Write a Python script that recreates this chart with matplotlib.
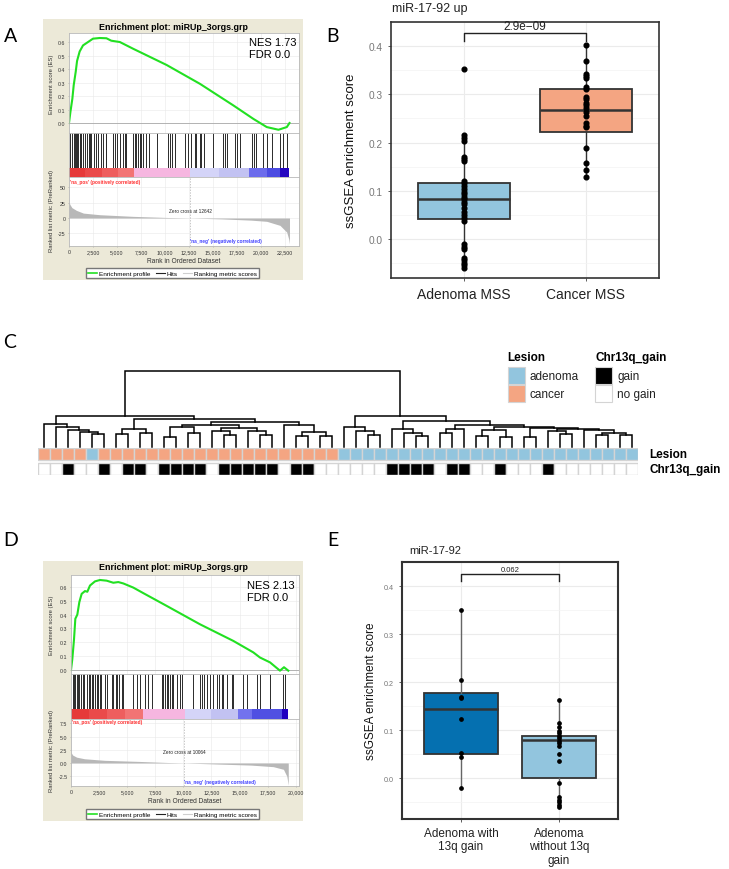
import matplotlib
matplotlib.use('Agg')
import matplotlib.pyplot as plt
from matplotlib.patches import Rectangle
from matplotlib.lines import Line2D
import numpy as np

plt.rcParams['font.family'] = ['Liberation Sans', 'DejaVu Sans']

# ---------------------------------------------------------------- data
# Panel A (GSEA, adenoma->cancer)
A_es_rank = [0, 143, 350, 490, 700, 840, 1110, 1460, 1980, 2500, 3200, 3900, 4400,
             5300, 6690, 10170, 13650, 17130, 19220, 20600, 21820, 22690, 22970]
A_es_val = [0, 0.08, 0.18, 0.28, 0.38, 0.46, 0.53, 0.575, 0.60, 0.625, 0.63, 0.628, 0.61,
            0.60, 0.55, 0.43, 0.29, 0.13, 0.03, -0.03, -0.05, -0.03, 0.0]
A_hits = [143, 316, 490, 629, 734, 838, 977, 1116, 1290, 1464, 1672, 1881, 2055, 2194, 2333,
          2611, 2855, 3028, 3376, 3550, 3828, 3898, 4593, 4767, 5010, 5289, 5636, 5810, 5984,
          6676, 6851, 7024, 7198, 7372, 7546, 7720, 8070, 8310, 9180, 10330, 10500, 10780,
          11020, 12060, 12410, 12760, 13110, 13280, 13630, 13800, 14050, 15020, 16000, 16240,
          16410, 17280, 17460, 17810, 19100, 19270, 19480, 20250, 20590, 21110, 21980, 22260,
          22750]
A_cb_edges = [0, 1700, 3400, 5100, 6800, 12600, 15600, 18800, 20600, 22000, 22970]
A_cb_colors = ['#e63a3a', '#ea4a4a', '#ee5e5e', '#f27474', '#f6b6e0', '#d4d4f8',
               '#c2c2f2', '#6c6cec', '#4c4ce2', '#2406c0']
A_m_rank = [0, 100, 300, 770, 1500, 3200, 6700, 10000, 12642, 16000, 19000, 20600,
            21980, 22680, 22900, 22970]
A_m_val = [26, 22, 17, 12.5, 8, 5.4, 2.7, 1, 0, -1.5, -3.5, -5.4, -12, -23, -35, -42]
A_zero = 12642

# Panel D (GSEA, adenoma with vs without 13q gain)
D_es_rank = [0, 119, 267, 385, 563, 741, 949, 1245, 1453, 1690, 2135, 2580, 3173, 3766,
             4210, 4655, 5545, 6434, 8510, 11476, 14442, 16221, 16814, 17704, 18593,
             18950, 19335]
D_es_val = [0, 0.08, 0.22, 0.37, 0.40, 0.49, 0.55, 0.57, 0.565, 0.61, 0.64, 0.65, 0.645,
            0.63, 0.635, 0.625, 0.595, 0.555, 0.463, 0.33, 0.21, 0.127, 0.09, 0.055,
            -0.005, 0.02, -0.005]
D_hits = [148, 267, 385, 504, 623, 741, 860, 1038, 1156, 1453, 1571, 1690, 1838, 1987,
          2135, 2283, 2431, 2580, 2669, 3025, 3173, 3618, 3766, 4003, 4122, 4300, 4507,
          4655, 5545, 5901, 6138, 6583, 6879, 7176, 8066, 8214, 8362, 8510, 8659, 8807,
          8955, 9103, 9400, 9696, 9845, 10883, 11476, 11624, 11832, 12069, 12366, 12662,
          12959, 13137, 13404, 13552, 13849, 14294, 14442, 15332, 15629, 16518, 16814,
          17704, 18890, 19038]
D_cb_edges = [0, 1600, 3200, 4800, 6400, 10140, 12500, 14860, 16100, 18770, 19330]
D_cb_colors = ['#e63a3a', '#ea4a4a', '#ee5e5e', '#f27474', '#f6b6e0', '#d4d4f8',
               '#c2c2f2', '#7272ee', '#5050e2', '#2000c0']
D_m_rank = [0, 150, 500, 1200, 3000, 6000, 8500, 10064, 13000, 16000, 18000, 18900,
            19200, 19330]
D_m_val = [2.0, 1.5, 1.1, 0.8, 0.5, 0.3, 0.1, 0, -0.2, -0.4, -0.7, -1.2, -2.5, -4.2]
D_zero = 10064

# Panel B
B_categories = ['Adenoma MSS', 'Cancer MSS']
B_adenoma = [0.353, 0.216, 0.209, 0.204, 0.169, 0.166, 0.161, 0.121, 0.116, 0.110, 0.103,
             0.098, 0.093, 0.0875, 0.0826, 0.077, 0.072, 0.065, 0.055, 0.049, 0.044,
             0.0375, -0.011, -0.016, -0.020, -0.039, -0.044, -0.049, -0.055, -0.060]
B_cancer = [0.403, 0.369, 0.343, 0.338, 0.333, 0.315, 0.310, 0.294, 0.291, 0.282, 0.277,
            0.272, 0.263, 0.256, 0.240, 0.235, 0.232, 0.188, 0.158, 0.144, 0.128]
B_q1 = [0.041, 0.2215]
B_med = [0.0826, 0.2667]
B_q3 = [0.116, 0.310]
B_whislo = [-0.060, 0.128]
B_whishi = [0.216, 0.403]
B_colors = ['#92c5de', '#f4a582']
B_pval = '2.9e\u221209'

# Panel C
lesion = ['cancer'] * 4 + ['adenoma'] + ['cancer'] * 20 + ['adenoma'] * 25
gain_idx = [3, 6, 8, 9, 11, 12, 13, 14, 16, 17, 18, 19, 20, 22, 23, 30, 31, 32, 33, 35,
            36, 39, 43]  # 1-based columns with Chr13q gain
lesion_colors = {'adenoma': '#92c5de', 'cancer': '#f4a582'}
# dendrogram: [left, right, height]
dendro_tree = [
    [[0, [1, [2, [3, [4, 5, 13], 15], 17], 20], 23],
     [[[6, 7, 13], [8, 9, 14], 18],
      [[[[10, 11, 10], [12, 13, 14], 20],
        [[14, [15, 16, 12], 16], [17, [18, 19, 12], 16], 19], 22],
       [20, [[21, 22, 11], [23, 24, 11], 15], 22], 25],
      28],
     31],
    [[25, [26, [27, 28, 12], 16], 20],
     [[29, [30, [31, 32, 11], 14], 18],
      [[[33, 34, 14], 35, 18],
       [[[36, 37, 11], [38, 39, 10], 17],
        [[40, 41, 10],
         [[42, [43, 44, 13], 16], [45, [[46, 47, 12], [48, 49, 12], 14], 17], 18],
         19.5],
        20],
       22],
      26],
     31],
    76]

# Panel E
E_categories = ['Adenoma with\n13q gain', 'Adenoma\nwithout 13q\ngain']
E_with = [0.351, 0.204, 0.169, 0.167, 0.122, 0.053, 0.044, -0.021]
E_without = [0.1625, 0.114, 0.1056, 0.0986, 0.093, 0.088, 0.083, 0.078, 0.073, 0.067,
             0.050, 0.035, -0.011, -0.040, -0.045, -0.051, -0.056, -0.060]
E_q1 = [0.049, 0.0]
E_med = [0.144, 0.079]
E_q3 = [0.177, 0.088]
E_whislo = [-0.021, -0.060]
E_whishi = [0.351, 0.1625]
E_colors = ['#0570b0', '#92c5de']
E_pval = '0.062'

# ---------------------------------------------------------------- figure
W, H = 729, 870
fig = plt.figure(figsize=(W / 100, H / 100), dpi=100)


def add_ax(x, y, w, h):
    return fig.add_axes([x / W, 1 - (y + h) / H, w / W, h / H])


def ftext(x, y, s, **kw):
    fig.text(x / W, 1 - y / H, s, **kw)


bg = add_ax(0, 0, W, H)
bg.set_xlim(0, W)
bg.set_ylim(H, 0)
bg.axis('off')

LETTER = dict(fontsize=14, family=['Lato', 'DejaVu Sans'], ha='center', va='center')
ftext(11, 37, 'A', **LETTER)
ftext(333, 37, 'B', **LETTER)
ftext(10, 343, 'C', **LETTER)
ftext(11, 540, 'D', **LETTER)
ftext(333, 540, 'E', **LETTER)


def style_spines(ax, c='#b8b8b8', lw=0.6):
    for s in ax.spines.values():
        s.set_color(c)
        s.set_linewidth(lw)


def gsea(lay, es_rank, es_val, hits, cb_edges, cb_colors, m_rank, m_val, xmax, es_ylim,
         m_ylim, m_ticks, m_labels, xticks, xlabels, zero, zc_y, pos_y, neg_y, nes):
    x0, x1 = lay['x0'], 299
    w = x1 - x0
    bg.add_patch(Rectangle((43, lay['box_top']), 260, lay['box_h'], color='#ece9d8', lw=0))
    ftext(173, lay['title_y'], 'Enrichment plot: miRUp_3orgs.grp', ha='center', va='center',
          fontsize=6.4, fontweight='bold')
    grid_c = '#e8e8e8'
    # ES
    ax1 = add_ax(x0, lay['es_top'], w, lay['es_bot'] - lay['es_top'])
    ax1.grid(color=grid_c, lw=0.4)
    ax1.axhline(0, color='#a8a8a8', lw=0.6)
    ax1.plot(es_rank, es_val, color='#22e022', lw=1.5)
    ax1.set_xlim(0, xmax)
    ax1.set_ylim(*es_ylim)
    ax1.set_xticks(xticks)
    ax1.set_xticklabels([])
    es_ticks = [0.0, 0.1, 0.2, 0.3, 0.4, 0.5, 0.6]
    ax1.set_yticks(es_ticks)
    ax1.set_yticklabels([f'{t:.1f}' for t in es_ticks], fontsize=3.8, color='#333')
    ax1.tick_params(length=1.0, width=0.4, color='#999', pad=1.5)
    style_spines(ax1)
    ax1.set_axisbelow(True)
    ftext(lay['nes_x'], lay['nes_y'], nes, ha='left', va='top', fontsize=8, linespacing=1.25)
    # hits
    ax2 = add_ax(x0, lay['es_bot'], w, lay['hits_bot'] - lay['es_bot'])
    ax2.vlines(hits, 0, 1, color='#2a2a2a', lw=0.7)
    ax2.set_xlim(0, xmax)
    ax2.set_ylim(0, 1)
    ax2.set_xticks([])
    ax2.set_yticks([])
    style_spines(ax2)
    ax2.spines['bottom'].set_visible(False)
    # colour bar
    ax3 = add_ax(x0, lay['hits_bot'], w, lay['cb_bot'] - lay['hits_bot'])
    ax3.bar(cb_edges[:-1], 1, width=np.diff(cb_edges), align='edge', color=cb_colors, lw=0)
    ax3.set_xlim(0, xmax)
    ax3.set_ylim(0, 1)
    ax3.set_xticks([])
    ax3.set_yticks([])
    style_spines(ax3)
    ax3.spines['top'].set_visible(False)
    # metric
    ax4 = add_ax(x0, lay['cb_bot'], w, lay['m_bot'] - lay['cb_bot'])
    ax4.grid(color=grid_c, lw=0.4)
    ax4.fill_between(m_rank, m_val, 0, color='#b8b8b8', lw=0)
    ax4.axvline(zero, color='#b0b0b0', lw=0.5, ls=(0, (2, 2)))
    ax4.set_xlim(0, xmax)
    ax4.set_ylim(*m_ylim)
    ax4.set_xticks(xticks)
    ax4.set_xticklabels(xlabels, fontsize=3.8, color='#333')
    ax4.set_yticks(m_ticks)
    ax4.set_yticklabels(m_labels, fontsize=3.8, color='#333')
    ax4.tick_params(length=1.0, width=0.4, color='#999', pad=1.5)
    ax4.set_xlabel('Rank in Ordered Dataset', fontsize=4.8, labelpad=1.5, color='#333')
    ax4.set_axisbelow(True)
    style_spines(ax4)
    ax4.text(zero, zc_y, f'Zero cross at {zero}', fontsize=3.4, ha='center', va='center',
             color='#222')
    ax4.text(xmax * 0.004, pos_y, "'na_pos' (positively correlated)", fontsize=3.4,
             color='#ff3030', fontweight='bold', ha='left', va='center')
    ax4.text(zero, neg_y, "'na_neg' (negatively correlated)", fontsize=3.4,
             color='#4040ff', fontweight='bold', ha='left', va='center')
    ftext(52, (lay['es_top'] + lay['es_bot']) / 2, 'Enrichment score (ES)', rotation=90,
          ha='center', va='center', fontsize=4.2, color='#333')
    ftext(52, (lay['es_bot'] + lay['m_bot'] + 25) / 2 + 8, 'Ranked list metric (PreRanked)',
          rotation=90, ha='center', va='center', fontsize=4.2, color='#333')
    handles = [Line2D([], [], color='#22e022', lw=1.2), Line2D([], [], color='#222', lw=0.8),
               Line2D([], [], color='#cfcfcf', lw=0.8)]
    fig.legend(handles, ['Enrichment profile', 'Hits', 'Ranking metric scores'], loc='center',
               bbox_to_anchor=(172.5 / W, 1 - lay['leg_y'] / H), ncol=3, fontsize=4.6,
               frameon=True, fancybox=False, edgecolor='#777', framealpha=1,
               handlelength=1.4, handletextpad=0.3, columnspacing=0.8, borderpad=0.35)


gsea(dict(x0=69, box_top=20, box_h=261, title_y=27, es_top=34, es_bot=134, hits_bot=169,
          cb_bot=178, m_bot=247, leg_y=274, nes_x=249, nes_y=38),
     A_es_rank, A_es_val, A_hits, A_cb_edges, A_cb_colors, A_m_rank, A_m_val, 23960,
     (-0.074, 0.667), (-45.7, 67), [50, 25, 0, -25], ['50', '25', '0', '-25'],
     [0, 2500, 5000, 7500, 10000, 12500, 15000, 17500, 20000, 22500],
     ['0', '2,500', '5,000', '7,500', '10,000', '12,500', '15,000', '17,500', '20,000',
      '22,500'], A_zero, 11.5, 60, -36, 'NES 1.73\nFDR 0.0')

gsea(dict(x0=71, box_top=562, box_h=260, title_y=568, es_top=576, es_bot=675, hits_bot=710,
          cb_bot=720, m_bot=787, leg_y=815, nes_x=247, nes_y=581),
     D_es_rank, D_es_val, D_hits, D_cb_edges, D_cb_colors, D_m_rank, D_m_val, 20285,
     (-0.029, 0.686), (-4.36, 8.33), [7.5, 5.0, 2.5, 0.0, -2.5],
     ['7.5', '5.0', '2.5', '0.0', '-2.5'],
     [0, 2500, 5000, 7500, 10000, 12500, 15000, 17500, 20000],
     ['0', '2,500', '5,000', '7,500', '10,000', '12,500', '15,000', '17,500', '20,000'],
     D_zero, 2.1, 7.8, -3.6, 'NES 2.13\nFDR 0.0')


# ---------------------------------------------------------------- box plots
def make_box(rect, ylim, cats, groups, q1, med, q3, lo, hi, colors, pval, ms, tick_fs,
             lab_fs, ylab_fs, ylab_x, br_top, br_bot, p_fs, frame_lw, whisk_c):
    ax = add_ax(*rect)
    stats = [dict(q1=q1[i], med=med[i], q3=q3[i], whislo=lo[i], whishi=hi[i], fliers=[])
             for i in range(len(cats))]
    bp = ax.bxp(stats, positions=[1, 2], widths=0.75, patch_artist=True, showcaps=False,
                boxprops=dict(edgecolor='#333333', lw=1.3),
                medianprops=dict(color='#333333', lw=1.8),
                whiskerprops=dict(color=whisk_c, lw=1.0))
    for p, c in zip(bp['boxes'], colors):
        p.set_facecolor(c)
    for i, g in enumerate(groups):
        ax.plot([i + 1] * len(g), g, 'o', color='black', ms=ms, zorder=5)
    ax.set_xlim(0.4, 2.6)
    ax.set_ylim(*ylim)
    ax.set_yticks([0.0, 0.1, 0.2, 0.3, 0.4])
    ax.set_yticks([-0.05, 0.05, 0.15, 0.25, 0.35, 0.45], minor=True)
    ax.set_xticks([1, 2])
    ax.set_xticklabels(cats, fontsize=lab_fs, color='#222')
    ax.set_yticklabels(['0.0', '0.1', '0.2', '0.3', '0.4'], fontsize=tick_fs, color='#777')
    ax.tick_params(axis='both', which='major', length=2.5, width=0.6, color='#444')
    ax.tick_params(axis='y', which='minor', length=0)
    ax.grid(which='major', color='#ebebeb', lw=0.8)
    ax.grid(which='minor', axis='y', color='#f3f3f3', lw=0.5)
    ax.set_axisbelow(True)
    ax.set_ylabel('ssGSEA enrichment score', fontsize=ylab_fs, color='#111')
    ax.yaxis.set_label_coords(ylab_x, 0.5)
    for s in ax.spines.values():
        s.set_color('#333333')
        s.set_linewidth(frame_lw)
    ax.plot([1, 1, 2, 2], [br_bot, br_top, br_top, br_bot], color='#222', lw=1.0,
            clip_on=False, zorder=6)
    ax.text(1.5, br_top + 0.003, pval, ha='center', va='bottom', fontsize=p_fs, color='#222')
    return ax


axB = make_box((391, 23, 268, 256), (-0.081, 0.45), B_categories, [B_adenoma, B_cancer],
               B_q1, B_med, B_q3, B_whislo, B_whishi, B_colors, B_pval, 3.4, 7.3, 10, 9.5,
               -0.125, 0.427, 0.41, 8.5, 1.2, '#333333')
axB.tick_params(axis='x', pad=4)
ftext(392, 9, 'miR-17-92 up', ha='left', va='center', fontsize=9, color='#222')

axE = make_box((402, 563, 216, 257), (-0.0854, 0.45), E_categories, [E_with, E_without],
               E_q1, E_med, E_q3, E_whislo, E_whishi, E_colors, E_pval, 2.4, 5.2, 8.5, 8.5,
               -0.118, 0.425, 0.41, 5.5, 1.5, '#666666')
axE.tick_params(axis='x', pad=3)
ftext(409, 551, 'miR-17-92', ha='left', va='center', fontsize=8, color='#222')

# ---------------------------------------------------------------- panel C
axD = add_ax(38, 371, 600, 77)
axD.set_xlim(-0.5, 49.5)
axD.set_ylim(0, 77)
axD.axis('off')


def draw_node(node):
    if isinstance(node, int):
        return float(node), 0.0
    l, r, h = node
    xl, hl = draw_node(l)
    xr, hr = draw_node(r)
    axD.plot([xl, xl, xr, xr], [hl, h, h, hr], color='black', lw=1.1,
             solid_joinstyle='miter', clip_on=False)
    return (xl + xr) / 2, h


draw_node(dendro_tree)

axH = add_ax(38, 449, 600, 27)
n_cols = len(lesion)
cols = np.arange(n_cols)
axH.bar(cols, 1, bottom=1.25, width=1, color=[lesion_colors[v] for v in lesion],
        edgecolor='#d4d4d4', lw=1.0)
gain_colors = ['black' if (i + 1) in gain_idx else 'white' for i in range(n_cols)]
axH.bar(cols, 1, bottom=0, width=1, color=gain_colors, edgecolor='#d4d4d4', lw=1.0)
axH.set_xlim(-0.5, n_cols - 0.5)
axH.set_ylim(-0.04, 2.29)
axH.axis('off')

ftext(649, 455, 'Lesion', ha='left', va='center', fontsize=8.5, fontweight='bold')
ftext(649, 470, 'Chr13q_gain', ha='left', va='center', fontsize=8.5, fontweight='bold')

# legends
ftext(507, 358, 'Lesion', ha='left', va='center', fontsize=8.5, fontweight='bold')
ftext(595, 358, 'Chr13q_gain', ha='left', va='center', fontsize=8.5, fontweight='bold')
leg_items = [(508, 368, lesion_colors['adenoma'], 'adenoma'),
             (508, 386, lesion_colors['cancer'], 'cancer'),
             (595, 368, 'black', 'gain'),
             (595, 386, 'white', 'no gain')]
for x, y, c, lab in leg_items:
    bg.add_patch(Rectangle((x, y), 17, 17, facecolor=c, edgecolor='#d4d4d4', lw=0.8))
    ftext(x + 22, y + 9, lab, ha='left', va='center', fontsize=8.5, color='#222')

fig.savefig('out.png', dpi=100)
